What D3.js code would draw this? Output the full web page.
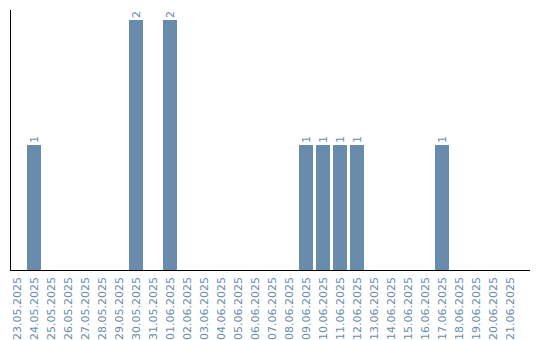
<!DOCTYPE html>
<html><head><meta charset="utf-8">
<script src="https://cdn.jsdelivr.net/npm/d3@7"></script>
<style>body{margin:0;background:#fff}svg{display:block}</style>
</head><body>
<script>
const dates = ["23.05.2025","24.05.2025","25.05.2025","26.05.2025","27.05.2025","28.05.2025","29.05.2025","30.05.2025","31.05.2025","01.06.2025","02.06.2025","03.06.2025","04.06.2025","05.06.2025","06.06.2025","07.06.2025","08.06.2025","09.06.2025","10.06.2025","11.06.2025","12.06.2025","13.06.2025","14.06.2025","15.06.2025","16.06.2025","17.06.2025","18.06.2025","19.06.2025","20.06.2025","21.06.2025"];
const counts = [0,1,0,0,0,0,0,2,0,2,0,0,0,0,0,0,0,1,1,1,1,0,0,0,0,1,0,0,0,0];
const data = dates.map((d,i)=>({d, v:counts[i]}));
const W=540,H=340, color="#6a8cac";
const svg=d3.select("body").append("svg").attr("width",W).attr("height",H);
const pi=3/17;
const x=d3.scaleBand().domain(dates).range([10,10+17*(30-pi)]).paddingInner(pi).paddingOuter(0);
const y=d3.scaleLinear().domain([0,2.08]).range([270,10]);
svg.selectAll("rect.bar").data(data.filter(d=>d.v>0)).enter().append("rect")
  .attr("x",d=>x(d.d)).attr("width",x.bandwidth())
  .attr("y",d=>y(d.v)).attr("height",d=>y(0)-y(d.v)).attr("fill",color);
svg.selectAll("text.val").data(data.filter(d=>d.v>0)).enter().append("text")
  .attr("transform",d=>`translate(${x(d.d)+x.bandwidth()/2+4},${y(d.v)-2}) rotate(-90)`)
  .attr("font-family","DejaVu Sans, sans-serif").attr("font-size",11).attr("fill",color)
  .text(d=>d.v);
svg.selectAll("text.lab").data(dates).enter().append("text")
  .attr("transform",d=>`translate(${x(d)+x.bandwidth()/2+4},277) rotate(-90)`)
  .attr("text-anchor","end")
  .attr("font-family","DejaVu Sans, sans-serif").attr("font-size",11).attr("fill",color)
  .text(d=>d);
svg.append("line").attr("x1",10.5).attr("x2",10.5).attr("y1",10).attr("y2",270).attr("stroke","#000");
svg.append("line").attr("x1",10).attr("x2",530).attr("y1",270.5).attr("y2",270.5).attr("stroke","#000");
</script>
</body></html>
